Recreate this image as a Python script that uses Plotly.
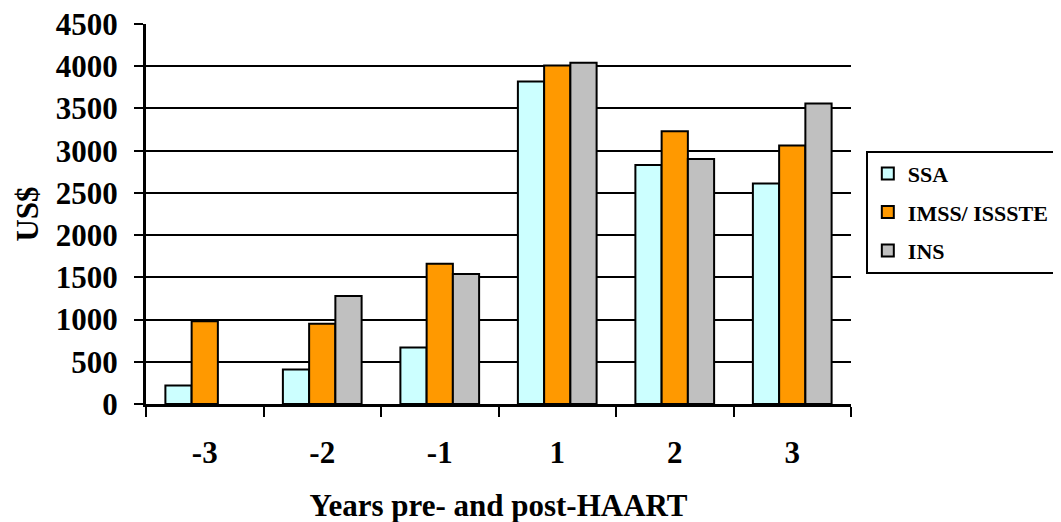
import plotly.graph_objects as go

categories = ["-3", "-2", "-1", "1", "2", "3"]
ssa = [220, 410, 670, 3820, 2830, 2610]
imss = [980, 950, 1660, 4010, 3230, 3060]
ins = [None, 1280, 1540, 4040, 2900, 3560]
y_ticks = [0, 500, 1000, 1500, 2000, 2500, 3000, 3500, 4000, 4500]

FONT = "Times New Roman, Liberation Serif, serif"

fig = go.Figure()
series = [("<b>SSA</b>", ssa, "#ccffff"), ("<b>IMSS/ ISSSTE</b>", imss, "#ff9900"), ("<b>INS</b>", ins, "#c0c0c0")]
for name, vals, col in series:
    fig.add_trace(go.Bar(
        x=categories, y=vals, name=name, legendgroup=name,
        marker=dict(color=col, line=dict(color="black", width=2)),
    ))

fig.update_layout(
    width=1061, height=522,
    margin=dict(l=138, r=218, t=16, b=126),
    paper_bgcolor="white", plot_bgcolor="white",
    barmode="group", bargap=0.33, bargroupgap=0,
    font=dict(family=FONT, size=31, color="black"),
    legend=dict(
        xref="container", x=0.8085, xanchor="left",
        y=0.505, yanchor="middle",
        bordercolor="black", borderwidth=2,
        font=dict(family=FONT, size=22, color="black"),
        tracegroupgap=7,
    ),
    xaxis=dict(
        type="category", tickson="boundaries", ticks="outside", ticklen=10,
        tickwidth=2, tickcolor="black", showline=True, linecolor="black",
        linewidth=3, showgrid=False, ticklabelstandoff=19, automargin=False,
        tickvals=categories, ticktext=["<b>%s</b>" % c for c in categories],
        tickfont=dict(family=FONT, size=31),
        title=dict(text="<b>Years pre- and post-HAART</b>", standoff=26,
                   font=dict(family=FONT, size=31)),
    ),
    yaxis=dict(
        range=[0, 4500], tickvals=y_ticks, ticktext=["<b>%d</b>" % v for v in y_ticks],
        ticks="outside", ticklen=9, automargin=False, ticklabeloverflow="allow",
        tickwidth=2, tickcolor="black", showline=True, linecolor="black",
        linewidth=3, showgrid=True, gridcolor="black", gridwidth=1.5,
        zeroline=False, ticklabelstandoff=10,
        tickfont=dict(family=FONT, size=31),
        title=dict(text="<b>US$</b>", standoff=8,
                   font=dict(family=FONT, size=31)),
    ),
)

fig.write_html("out.html")
